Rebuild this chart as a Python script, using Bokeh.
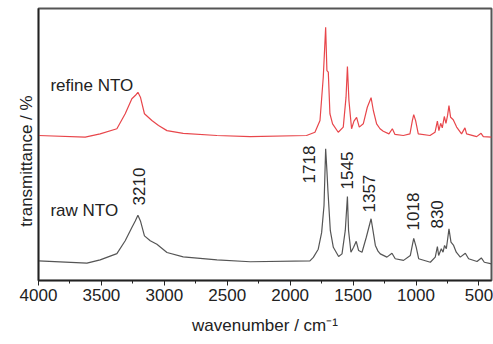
import math
from bokeh.plotting import figure
from bokeh.models import Range1d, FixedTicker, ColumnDataSource
from bokeh.core.properties import value
from bokeh.embed import file_html
from bokeh.resources import INLINE

# ---- data ----
wn_raw = [4000, 3615, 3510, 3377, 3311, 3258, 3231, 3210, 3190, 3158, 3112, 3059, 2979, 2850,
          2582, 2317, 1843, 1816, 1777, 1750, 1731, 1718, 1708, 1700, 1681, 1657, 1615, 1588,
          1562, 1545, 1536, 1517, 1496, 1475, 1456, 1429, 1395, 1357, 1342, 1323, 1302, 1284,
          1231, 1191, 1165, 1099, 1045, 1027, 1018, 998, 979, 886, 847, 830, 820, 799, 785,
          773, 759, 750, 738, 722, 701, 680, 648, 608, 582, 515, 481, 457, 400]
t_raw = [7.2, 6.4, 7.6, 9.9, 14.6, 19.5, 21.9, 24.0, 21.9, 16.4, 14.6, 13.3, 10.3, 8.7,
         7.6, 6.9, 7.2, 8.5, 11.5, 17.6, 27.6, 48.4, 40.4, 33.1, 18.4, 12.2, 8.8, 9.8,
         18.4, 30.9, 18.4, 10.4, 12.2, 14.4, 11.0, 10.4, 15.9, 22.7, 18.4, 12.9, 10.8, 9.8,
         8.6, 10.0, 8.0, 7.4, 9.2, 13.5, 15.5, 12.2, 8.0, 6.7, 8.6, 12.5, 9.2, 11.7, 10.4,
         12.9, 11.7, 14.7, 19.0, 14.1, 12.9, 10.4, 8.6, 10.0, 8.0, 7.0, 8.3, 6.7, 6.1]

wn_refine = [4000, 3629, 3510, 3377, 3311, 3258, 3231, 3210, 3190, 3158, 3099, 3046, 2979, 2850,
             2582, 2317, 1870, 1803, 1763, 1737, 1718, 1708, 1697, 1684, 1663, 1618, 1578,
             1556, 1545, 1533, 1512, 1493, 1472, 1451, 1419, 1387, 1357, 1339, 1313, 1286,
             1260, 1215, 1188, 1167, 1101, 1048, 1029, 1018, 1003, 982, 889, 849, 830, 818,
             804, 791, 775, 762, 749, 738, 725, 704, 677, 638, 611, 598, 518, 483, 465, 400]
t_refine = [53.3, 52.7, 53.9, 55.8, 61.3, 66.8, 68.0, 69.2, 67.4, 61.3, 58.8, 57.0, 55.1, 54.1,
            53.3, 52.9, 53.3, 54.5, 58.8, 74.7, 93.1, 77.2, 76.6, 61.3, 57.6, 54.5, 56.4,
            67.4, 78.7, 66.2, 55.8, 58.6, 60.0, 56.4, 57.6, 63.7, 67.2, 62.5, 57.6, 55.8,
            54.9, 53.9, 55.8, 53.7, 53.3, 53.9, 58.8, 61.0, 58.8, 53.9, 53.3, 54.5, 58.6, 55.1,
            57.8, 56.1, 60.3, 57.8, 60.7, 64.3, 60.0, 59.1, 56.4, 53.9, 56.1, 53.9, 52.9, 54.1, 52.9, 52.7]

peak_labels = ["3210", "1718", "1545", "1357", "1018", "830"]
peak_label_wn = [3200, 1848, 1548, 1374, 1020, 836]
peak_label_t = [27.6, 35.7, 33.5, 25.0, 18.4, 19.1]

series_names = ["refine NTO", "raw NTO"]
series_name_wn = [3905, 3905]
series_name_t = [71.7, 25.6]

x_major = [4000, 3500, 3000, 2500, 2000, 1500, 1000, 500]
x_minor = [3750, 3250, 2750, 2250, 1750, 1250, 750]

FONT = "Liberation Sans"

p = figure(width=493, height=344, output_backend="svg", toolbar_location=None,
           x_range=Range1d(4000, 400), y_range=Range1d(0, 100),
           min_border_left=38, min_border_right=2, min_border_top=8, min_border_bottom=64)
p.background_fill_color = "white"
p.border_fill_color = "white"
p.grid.visible = False
p.outline_line_color = "#555555"
p.outline_line_width = 2

p.line(wn_refine, t_refine, line_color="#e8464b", line_width=1.2)
p.line(wn_raw, t_raw, line_color="#555555", line_width=1.2)

src = ColumnDataSource(dict(x=peak_label_wn, y=peak_label_t, t=peak_labels))
p.text(x="x", y="y", text="t", source=src, angle=math.pi / 2, text_align="left",
       text_baseline="middle", text_font=value(FONT), text_font_size="17px", text_color="#222222")
src2 = ColumnDataSource(dict(x=series_name_wn, y=series_name_t, t=series_names))
p.text(x="x", y="y", text="t", source=src2, text_align="left", text_baseline="alphabetic",
       text_font=value(FONT), text_font_size="17px", text_color="#222222")

xa = p.xaxis[0]
xa.ticker = FixedTicker(ticks=x_major, minor_ticks=x_minor)
xa.axis_line_color = "#222222"
xa.axis_line_width = 1.5
xa.major_tick_line_color = "#222222"
xa.minor_tick_line_color = "#222222"
xa.major_tick_out = 5
xa.major_tick_in = 0
xa.minor_tick_out = 3
xa.minor_tick_in = 0
xa.major_label_text_font = FONT
xa.major_label_text_font_size = "17px"
xa.major_label_text_color = "#222222"
xa.major_label_standoff = 3
xa.axis_label = "wavenumber / cm\u207b\u00b9"
xa.axis_label_text_font = FONT
xa.axis_label_text_font_size = "17px"
xa.axis_label_text_font_style = "normal"
xa.axis_label_text_color = "#222222"
xa.axis_label_standoff = 12

ya = p.yaxis[0]
ya.axis_line_color = "#222222"
ya.axis_line_width = 1.5
ya.major_tick_line_color = None
ya.minor_tick_line_color = None
ya.major_tick_out = 0
ya.major_tick_in = 0
ya.minor_tick_out = 0
ya.minor_tick_in = 0
ya.major_label_text_font_size = "0px"
ya.major_label_text_color = None
ya.major_label_standoff = 0
ya.axis_label = "transmittance / %" + "\u00a0" * 7
ya.axis_label_text_font = FONT
ya.axis_label_text_font_size = "17px"
ya.axis_label_text_font_style = "normal"
ya.axis_label_text_color = "#222222"
ya.axis_label_standoff = 3

open("out.html", "w").write(file_html(p, INLINE))
